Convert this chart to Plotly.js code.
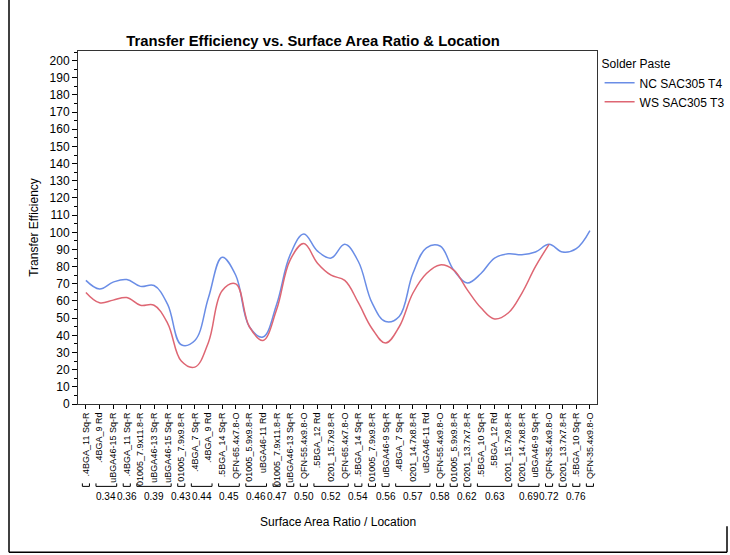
<!DOCTYPE html>
<html>
<head>
<meta charset="utf-8">
<script src="https://cdn.plot.ly/plotly-3.0.1.min.js"></script>
<style>html,body{margin:0;padding:0;background:#fff;}#chart{width:730px;height:555px;}</style>
</head>
<body>
<div id="chart"></div>
<script>
// Location (inner category) labels, in plotted order
const locations = [
  ".4BGA_11 Sq-R", ".4BGA_9 Rd", "uBGA46-15 Sq-R", ".4BGA_11 Sq-R", "01005_7.9x11.8-R",
  "uBGA46-13 Sq-R", "uBGA46-15 Sq-R", "01005_7.9x9.8-R", ".4BGA_7 Sq-R", ".4BGA_9 Rd",
  ".5BGA_14 Sq-R", "QFN-65.4x7.8-O", "01005_5.9x9.8-R", "uBGA46-11 Rd", "01005_7.9x11.8-R",
  "uBGA46-13 Sq-R", "QFN-55.4x9.8-O", ".5BGA_12 Rd", "0201_15.7x9.8-R", "QFN-65.4x7.8-O",
  ".5BGA_14 Sq-R", "01005_7.9x9.8-R", "uBGA46-9 Sq-R", ".4BGA_7 Sq-R", "0201_14.7x8.8-R",
  "uBGA46-11 Rd", "QFN-55.4x9.8-O", "01005_5.9x9.8-R", "0201_13.7x7.8-R", ".5BGA_10 Sq-R",
  ".5BGA_12 Rd", "0201_15.7x9.8-R", "0201_14.7x8.8-R", "uBGA46-9 Sq-R", "QFN-35.4x9.8-O",
  "0201_13.7x7.8-R", ".5BGA_10 Sq-R", "QFN-35.4x9.8-O"
];
// Surface area ratio (outer group) per location; "" = label not shown
const ratios = [
  "", "0.34", "0.34", "0.36", "0.39", "0.39", "0.39", "0.43", "0.44", "0.44",
  "0.45", "0.45", "0.46", "0.46", "0.47", "", "0.50", "0.52", "0.52", "0.52",
  "0.54", "", "0.56", "0.57", "0.57", "0.57", "0.58", "", "0.62", "0.63",
  "0.63", "0.63", "0.69", "0.69", "0.72", "", "0.76", ""
];
// Transfer efficiency
const ncSAC305T4 = [
  72, 67, 71, 72.5, 68.5, 69, 58, 34.5, 37, 62,
  85.5, 75, 45, 39, 58, 87, 99, 89, 85, 93,
  83, 59, 48, 51, 76, 91, 92, 78, 70.5, 76,
  85, 87.5, 87, 88.5, 93, 88.5, 90.5, 101
];
const wsSAC305T3 = [
  65, 59, 60.5, 62, 57.5, 57.5, 47, 25, 21.5, 36,
  66, 70, 45, 37, 55, 84, 93.5, 82, 75, 72,
  59, 44, 35.5, 45, 64.5, 76, 81, 78, 66.5, 56,
  49.5, 53, 64.5, 80, 93, null, null, null
];
const seriesNames = ["NC SAC305 T4", "WS SAC305 T3"];
const seriesColors = ["#6a8de6", "#de6673"];

const idx = locations.map((_, i) => i);

const traces = [
  {x: idx, y: ncSAC305T4, name: seriesNames[0], type: "scatter", mode: "lines",
   line: {color: seriesColors[0], width: 1.5, shape: "spline", smoothing: 1.1}},
  {x: idx, y: wsSAC305T3, name: seriesNames[1], type: "scatter", mode: "lines",
   line: {color: seriesColors[1], width: 1.5, shape: "spline", smoothing: 1.1}}
];

// Build group runs
const groups = [];
ratios.forEach((r, i) => {
  const last = groups[groups.length - 1];
  if (last && last.label === r && r !== "") last.end = i;
  else groups.push({label: r, start: i, end: i});
});

const PLOT_L = 78, PLOT_R = 597, PLOT_TOP = 51, PLOT_BOT = 404.5;
const PLOT_H = PLOT_BOT - PLOT_TOP, PLOT_W = PLOT_R - PLOT_L;
const py = p => (PLOT_BOT - p) / PLOT_H;
const PX = x => (x - PLOT_L) / PLOT_W;
const yLine = py(487), yTick = py(484), yLab = py(497);
const pad = 0.26;

const shapes = groups.map(g => ({
  type: "path", xref: "x", yref: "paper",
  path: `M ${g.start - pad} ${yTick} L ${g.start - pad} ${yLine} L ${g.end + pad} ${yLine} L ${g.end + pad} ${yTick}`,
  line: {color: "#000", width: 1}
}));
// outer frame lines of the picture
shapes.push({type: "line", xref: "paper", yref: "paper", x0: PX(9), x1: PX(9), y0: py(0), y1: py(553), line: {color: "#000", width: 1.5}});
shapes.push({type: "line", xref: "paper", yref: "paper", x0: PX(9), x1: PX(727), y0: py(553), y1: py(553), line: {color: "#000", width: 1.5}});
shapes.push({type: "line", xref: "paper", yref: "paper", x0: PX(727), x1: PX(727), y0: py(527), y1: py(553), line: {color: "#000", width: 1.5}});

const annotations = groups.filter(g => g.label !== "").map(g => ({
  x: (g.start + g.end) / 2, y: yLab, xref: "x", yref: "paper",
  text: g.label, showarrow: false, xanchor: "center", yanchor: "middle",
  font: {family: "Liberation Sans, Arial, sans-serif", size: 10, color: "#000"}
}));
annotations.push({
  x: 0.5, y: py(523), xref: "paper", yref: "paper", text: "Surface Area Ratio / Location",
  showarrow: false, xanchor: "center", yanchor: "middle",
  font: {family: "Liberation Sans, Arial, sans-serif", size: 12, color: "#000"}
});

const layout = {
  width: 730, height: 555,
  margin: {l: PLOT_L, r: 730 - PLOT_R, t: PLOT_TOP, b: 555 - PLOT_BOT, pad: 0, autoexpand: false},
  paper_bgcolor: "#fff", plot_bgcolor: "#fff",
  font: {family: "Liberation Sans, Arial, sans-serif", size: 12, color: "#000"},
  title: {text: "<b>Transfer Efficiency vs. Surface Area Ratio & Location</b>",
          x: 313 / 730, xref: "container", xanchor: "center",
          y: 1 - 41 / 555, yref: "container", yanchor: "middle",
          font: {family: "Liberation Sans, Arial, sans-serif", size: 14.8, color: "#000"}},
  xaxis: {
    type: "linear", range: [-0.58, 37.52], tickmode: "array", tickvals: idx, ticktext: locations,
    tickangle: -90, tickfont: {size: 9, color: "#000"}, ticks: "outside", ticklen: 4, tickcolor: "#000",
    showgrid: false, zeroline: false, showline: true, linecolor: "#333", linewidth: 1, mirror: true,
    automargin: false, fixedrange: true
  },
  yaxis: {
    range: [0, 205.6], tickmode: "linear", tick0: 0, dtick: 10,
    ticks: "outside", ticklen: 5, tickcolor: "#000", tickfont: {size: 12, color: "#000"},
    minor: {dtick: 5, ticks: "outside", ticklen: 3, tickcolor: "#000"},
    showgrid: false, zeroline: false, showline: true, linecolor: "#333", linewidth: 1, mirror: true,
    title: {text: "Transfer Efficiency", standoff: 8, font: {size: 12, color: "#000"}},
    automargin: false, fixedrange: true
  },
  legend: {
    x: 1.005, xanchor: "left", y: 0.995, yanchor: "top",
    title: {text: "Solder Paste", font: {size: 12, color: "#000"}},
    font: {size: 12, color: "#000"}, bgcolor: "rgba(0,0,0,0)", borderwidth: 0,
    tracegroupgap: 0, itemwidth: 30
  },
  shapes: shapes,
  annotations: annotations
};

Plotly.newPlot("chart", traces, layout, {displayModeBar: false, staticPlot: true});
</script>
</body>
</html>
